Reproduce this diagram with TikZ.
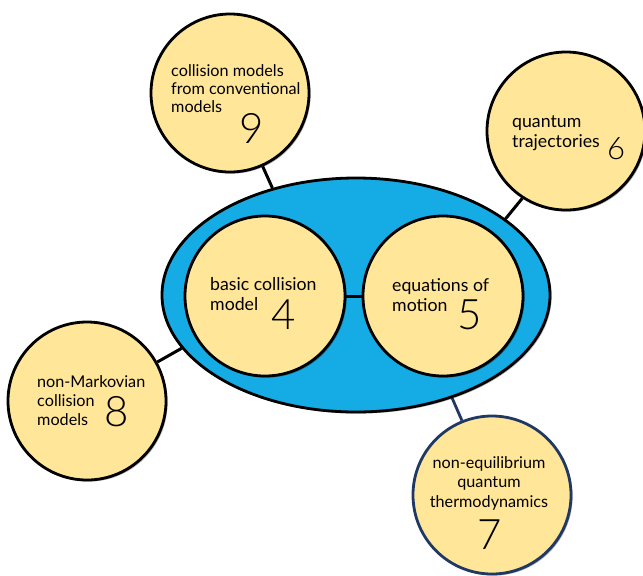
\documentclass[tikz,border=0pt]{standalone}
\usepackage{fontspec}
\setmainfont{Lato}
\newfontfamily\numfont{Lato}[UprightFont=* Light]
\usetikzlibrary{shapes.geometric,shadows,backgrounds}
\definecolor{bub}{RGB}{255,230,153}
\definecolor{sky}{RGB}{21,171,228}
\definecolor{navy}{RGB}{32,56,100}
\begin{document}
\begin{tikzpicture}[x=1pt,y=-1pt,
  shad/.style={drop shadow={shadow xshift=1.6pt,shadow yshift=-1.6pt,opacity=0.3,fill=black}},
  bubble/.style={circle,draw=black,line width=2.8pt,fill=bub,inner sep=0pt,minimum size=#1,shad},
  bubble/.default=158pt,
  hub/.style={ellipse,draw=black,line width=2.8pt,fill=sky,inner sep=0pt,minimum width=388pt,minimum height=234pt,shad},
  lbl/.style={inner sep=0pt,align=left,anchor=base west,font=\fontsize{16.2}{18}\selectfont},
  biglbl/.style={inner sep=0pt,align=left,anchor=base west,font=\fontsize{17.7}{20}\selectfont},
  num/.style={inner sep=0pt,anchor=center,font=\numfont\fontsize{42}{42}\selectfont},
  link/.style={line width=3pt,draw=black},
  navylink/.style={line width=2.8pt,draw=navy}]
\useasboundingbox (0,0) rectangle (643,576);
% hub and bubbles
\node[hub] (ell) at (356,295) {};
\node[bubble=160pt] (c4) at (265,296) {};
\node[bubble=160pt] (c5) at (443,296) {};
\node[bubble] (c9) at (230,93) {};
\node[bubble] (c6) at (566,131) {};
\node[bubble] (c8) at (87,401) {};
\node[bubble,draw=navy] (c7) at (492,495) {};
% connectors
\begin{scope}[on background layer]
\draw[link] (c9.-66) -- (ell.128);
\draw[link] (c6.237) -- (ell.27);
\draw[link] (c8.29) -- (ell.197);
\draw[navylink] (c7.112) -- (ell.-47);
\end{scope}
\draw[link] (c4.east) -- (c5.west);
% texts
\node[lbl] (t9) at (171,112) {collision models\\from conventional\\models};
\node[num] (n9) at (252,128) {9};
\node[biglbl] (t4) at (210,310.5) {basic collision\\model};
\node[num] (n4) at (284,315) {4};
\node[biglbl] (t5) at (392,311.5) {equations of\\motion};
\node[num] (n5) at (470,315) {5};
\node[biglbl] (t6) at (512,147.5) {quantum\\trajectories};
\node[num,font=\numfont\fontsize{31}{31}\selectfont] (n6) at (616,149) {6};
\node[lbl,font=\fontsize{16.2}{19}\selectfont] (t8) at (37,425) {non-Markovian\\collision\\models};
\node[num] (n8) at (117,412) {8};
\node[lbl,font=\fontsize{16.2}{19.5}\selectfont,align=center,anchor=base] (t7) at (489,507) {non-equilibrium\\quantum\\thermodynamics};
\node[num] (n7) at (490,535) {7};
\end{tikzpicture}
\end{document}
